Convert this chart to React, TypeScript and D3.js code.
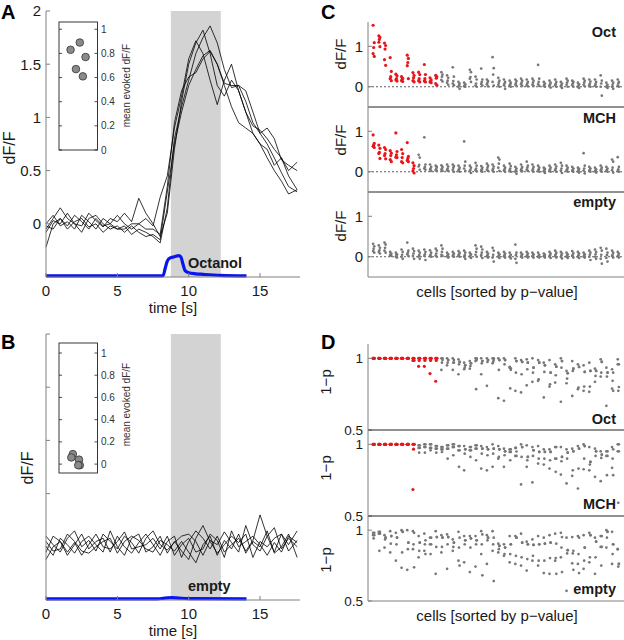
import React from 'react';
import * as d3 from 'd3';

// ---------- DATA ----------
const TIMES = [0,0.5,1,1.5,2,2.5,3,3.5,4,4.5,5,5.5,6,6.5,7,7.5,8,8.5,9,9.5,10,10.5,11,11.5,12,12.5,13,13.5,14,14.5,15,15.5,16,16.5,17,17.6];

const TRACES_A = [
  [-0.22,0.0,0.05,-0.02,0.08,0.02,-0.05,0.05,-0.02,0.0,-0.05,-0.02,-0.1,-0.05,-0.08,-0.12,-0.18,0.15,0.8,1.1,1.35,1.6,1.75,1.86,1.7,1.45,1.28,1.3,1.15,0.95,0.85,0.75,0.62,0.48,0.35,0.3],
  [-0.05,0.05,0.15,0.05,0.0,-0.02,0.1,0.03,-0.03,0.05,0.02,0.1,0.02,0.24,0.1,0.0,-0.12,0.1,0.7,1.15,1.5,1.7,1.82,1.6,1.3,1.2,1.35,1.25,1.05,0.92,0.88,0.8,0.7,0.62,0.5,0.58],
  [0.0,0.08,-0.02,0.02,-0.05,0.08,0.02,-0.05,0.05,0.0,0.08,0.0,-0.05,0.0,0.05,-0.02,0.25,0.45,0.9,1.2,1.55,1.72,1.6,1.35,1.12,1.35,1.5,1.25,1.05,0.85,0.75,0.7,0.55,0.62,0.45,0.32],
  [-0.08,0.03,0.0,0.1,0.0,-0.08,0.05,0.08,0.0,-0.05,-0.02,-0.08,-0.02,-0.08,-0.12,-0.1,-0.15,0.3,0.75,1.05,1.3,1.45,1.58,1.63,1.5,1.32,1.3,1.3,1.25,1.05,0.85,0.9,0.8,0.6,0.55,0.5],
  [-0.02,-0.05,0.05,-0.05,0.02,0.05,-0.03,0.0,-0.08,-0.02,-0.05,-0.05,0.0,0.0,-0.05,-0.05,-0.1,0.35,0.95,1.25,1.38,1.42,1.55,1.62,1.5,1.3,1.1,0.95,0.9,0.85,0.75,0.62,0.5,0.4,0.28,0.32],
];

const TRACES_B = [
  [-0.05,0.1,0.05,-0.08,0.02,0.12,-0.02,0.05,0.08,-0.05,0.1,0.0,-0.06,0.04,0.12,0.02,-0.08,0.05,0.1,-0.1,0.05,0.15,0.08,-0.02,0.1,-0.05,0.02,0.08,-0.04,0.06,0.3,0.1,-0.05,0.12,0.02,0.15],
  [0.1,0.02,-0.05,0.08,0.15,0.0,0.06,-0.04,0.12,0.05,-0.02,0.1,0.04,-0.06,0.08,0.15,0.02,-0.03,0.04,0.1,0.12,0.05,-0.08,0.06,0.02,0.14,0.04,-0.05,0.2,0.02,-0.04,0.1,0.18,-0.02,0.08,0.0],
  [0.0,-0.08,0.08,0.02,-0.06,0.05,0.1,0.02,-0.05,0.15,0.0,-0.08,0.08,0.12,-0.05,0.0,0.1,-0.06,0.05,-0.04,-0.12,0.08,0.2,0.05,-0.06,0.02,0.1,0.04,0.12,-0.1,0.05,0.0,0.08,0.12,-0.04,0.06],
  [-0.12,0.0,0.05,-0.05,0.04,-0.08,0.02,0.12,0.0,-0.02,0.05,0.14,-0.02,0.0,0.02,0.08,-0.02,0.1,-0.08,0.02,0.08,-0.05,-0.02,0.12,0.06,-0.1,0.15,0.0,0.05,0.1,0.02,-0.08,0.04,-0.05,0.1,0.04],
  [0.05,-0.04,-0.02,0.12,0.05,-0.04,-0.06,0.0,0.05,0.08,-0.06,0.05,0.1,0.06,-0.02,-0.05,0.06,0.02,-0.04,0.05,-0.05,-0.15,0.02,0.1,-0.08,0.06,-0.02,0.12,-0.06,0.05,0.0,0.15,-0.06,0.0,0.12,-0.1],
];

const STIM_T_A = [0, 8.2, 8.35, 8.5, 8.7, 9.0, 9.3, 9.45, 9.6, 9.75, 10.0, 10.5, 11.0, 12.2, 14.05];
const STIM_V_A = [-0.49, -0.49, -0.42, -0.35, -0.32, -0.31, -0.3, -0.31, -0.38, -0.44, -0.46, -0.47, -0.475, -0.485, -0.49];
const STIM_T_B = [0, 7.8, 8.3, 8.8, 9.3, 10, 14.05];
const STIM_V_B = [-0.49, -0.49, -0.482, -0.478, -0.482, -0.487, -0.49];

const ODOR_WINDOW = [8.75, 12.25];
const TIME_TICKS = [0, 5, 10, 15];
const DFF_TICKS = [0, 0.5, 1, 1.5, 2];
const DFF_TICK_LABELS = ['0', '0.5', '1', '1.5', '2'];
const INSET_TICKS = [0, 0.2, 0.4, 0.6, 0.8, 1];

const INSET_A = [0.83, 0.89, 0.77, 0.67, 0.61];
const INSET_A_JITTER = [0.3, 0.54, 0.69, 0.44, 0.62];
const INSET_B = [0.09, 0.06, 0.04, -0.01, -0.01];
const INSET_B_JITTER = [0.36, 0.32, 0.52, 0.54, 0.5];

const ODORS = ['Oct', 'MCH', 'empty'];
const SIG_CELLS = [12, 8, 0];

const RESP_OCT = [
  [1.52,1.09,0.97,0.82,0.75],[1.26,1.22,1.17,1.1,0.99],[1.08,1.02,0.93,0.67,0.53],[0.72,0.38,0.25,0.2,0.15],
  [0.31,0.27,0.2,0.17,0.14],[0.25,0.21,0.18,0.15,0.13],[0.78,0.7,0.6,0.52,0.2],[0.35,0.28,0.22,0.15,0.12],
  [0.36,0.3,0.2,0.15,0.12],[0.55,0.3,0.2,0.14,0.12],[0.22,0.17,0.14,0.12,0.1],[0.28,0.25,0.21,0.08,0.04],
  [0.36,0.3,0.25,0.17,0.13],[0.28,0.22,0.15,0.1,0.05],[0.48,0.25,0.14,0.08,0.04],[0.12,0.08,0.04,0.0,-0.05],
  [0.1,0.06,0.03,0.01,0.0],[0.42,0.36,0.24,0.2,0.12],[0.25,0.18,0.08,0.03,0.0],[0.45,0.18,0.12,0.07,0.03],
  [0.18,0.14,0.1,0.06,0.01],[0.73,0.46,0.3,0.12,0.03],[0.22,0.15,0.1,0.05,0.0],[0.18,0.12,0.08,0.04,-0.05],
  [0.15,0.1,0.06,0.03,0.0],[0.18,0.14,0.09,0.05,0.02],[0.2,0.15,0.1,0.06,0.02],[0.18,0.12,0.08,0.04,0.01],
  [0.2,0.15,0.1,0.05,0.02],[0.54,0.2,0.12,0.06,0.02],[0.12,0.08,0.05,0.02,0.0],[0.15,0.1,0.06,0.03,-0.02],
  [0.18,0.12,0.07,0.04,0.0],[0.12,0.08,0.04,0.01,-0.03],[0.2,0.15,0.1,0.05,0.0],[0.15,0.12,0.08,0.04,0.0],
  [0.1,0.06,0.03,0.0,-0.03],[0.2,0.15,0.1,0.05,0.01],[0.18,0.13,0.08,0.04,0.0],[0.18,0.12,0.07,0.03,0.0],
  [0.28,0.15,0.08,0.0,-0.22],[0.1,0.05,0.02,0.0,-0.03],[0.15,0.1,0.05,0.0,-0.05],[0.18,0.12,0.08,0.03,0.0],
];
const RESP_MCH = [
  [0.91,0.7,0.66,0.63,0.6],[0.66,0.58,0.48,0.45,0.33],[0.6,0.55,0.45,0.4,0.32],[0.52,0.46,0.4,0.3,0.25],
  [0.96,0.5,0.42,0.36,0.35],[0.55,0.45,0.35,0.25,0.22],[0.72,0.38,0.33,0.28,0.25],[0.22,0.15,0.08,0.02,-0.03],
  [0.42,0.35,0.17,0.13,0.05],[0.85,0.18,0.12,0.08,0.05],[0.18,0.12,0.08,0.05,0.02],[0.15,0.12,0.08,0.04,0.02],
  [0.16,0.12,0.08,0.05,0.02],[0.18,0.13,0.08,0.04,0.02],[0.18,0.14,0.1,0.05,0.0],[0.15,0.1,0.06,0.03,0.0],
  [0.75,0.25,0.15,0.08,0.02],[0.15,0.1,0.05,0.02,-0.03],[0.22,0.15,0.08,0.04,0.01],[0.14,0.1,0.06,0.03,0.0],
  [0.2,0.15,0.1,0.05,0.02],[0.18,0.13,0.08,0.04,0.0],[0.35,0.3,0.2,0.1,0.02],[0.15,0.1,0.06,0.03,0.0],
  [0.2,0.14,0.08,0.04,0.0],[0.12,0.08,0.04,0.0,-0.05],[0.18,0.12,0.08,0.04,0.01],[0.25,0.15,0.1,0.05,0.02],
  [0.18,0.12,0.07,0.03,0.0],[0.15,0.1,0.06,0.03,0.0],[0.1,0.07,0.04,0.01,-0.03],[0.15,0.1,0.06,0.03,0.0],
  [0.18,0.13,0.08,0.04,0.0],[0.22,0.15,0.08,0.03,-0.03],[0.15,0.1,0.06,0.03,0.0],[0.12,0.08,0.05,0.02,0.0],
  [0.1,0.07,0.04,0.01,-0.02],[0.46,0.15,0.08,0.03,-0.04],[0.12,0.08,0.05,0.02,0.0],[0.1,0.06,0.03,0.01,-0.02],
  [0.15,0.1,0.06,0.03,0.0],[0.12,0.08,0.05,0.02,0.0],[0.3,0.25,0.1,0.04,-0.02],[0.36,0.12,0.06,0.02,0.0],
];
const RESP_EMPTY = [
  [0.32,0.26,0.2,0.14,0.1],[0.28,0.22,0.16,0.12,0.08],[0.35,0.3,0.22,0.15,0.1],[0.12,0.08,0.06,0.04,0.02],
  [0.1,0.06,0.04,0.0,-0.02],[0.18,0.12,0.05,0.0,-0.05],[0.35,0.15,0.1,0.06,0.02],[0.2,0.14,0.08,0.02,-0.05],
  [0.15,0.1,0.04,0.0,-0.05],[0.18,0.12,0.06,0.02,-0.08],[0.16,0.1,0.05,0.02,0.0],[0.2,0.15,0.08,0.03,0.0],
  [0.28,0.2,0.12,0.05,0.02],[0.1,0.06,0.03,0.01,-0.02],[0.12,0.08,0.05,0.02,0.0],[0.14,0.1,0.06,0.03,0.0],
  [0.15,0.1,0.04,0.0,-0.05],[0.1,0.06,0.03,0.01,-0.03],[0.28,0.2,0.12,0.05,0.0],[0.25,0.18,0.1,0.04,-0.03],
  [0.12,0.08,0.04,0.01,-0.02],[0.22,0.15,0.05,-0.02,-0.12],[0.1,0.06,0.03,0.0,-0.03],[0.12,0.08,0.04,0.01,-0.02],
  [0.1,0.05,0.02,0.0,-0.04],[0.3,0.1,0.04,-0.05,-0.15],[0.1,0.06,0.03,0.0,-0.02],[0.12,0.08,0.04,0.01,-0.02],
  [0.1,0.06,0.03,0.01,-0.02],[0.1,0.05,0.02,0.0,-0.02],[0.08,0.05,0.03,0.01,-0.02],[0.12,0.08,0.04,0.01,-0.03],
  [0.15,0.1,0.06,0.02,-0.02],[0.12,0.08,0.04,0.0,-0.04],[0.1,0.06,0.03,0.0,-0.03],[0.14,0.09,0.05,0.02,-0.02],
  [0.12,0.08,0.04,0.0,-0.03],[0.1,0.06,0.03,0.0,-0.02],[0.15,0.1,0.05,0.0,-0.08],[0.18,0.12,0.06,0.0,-0.05],
  [0.22,0.15,0.05,-0.05,-0.17],[0.2,0.1,0.04,-0.03,-0.12],[0.15,0.1,0.05,0.02,-0.02],[0.12,0.08,0.04,0.01,-0.02],
];

const P_OCT = [
  [1,1,1,1,1],[1,1,1,1,1],[1,1,1,1,1],[1,1,1,1,1],[1,1,1,1,1],[1,1,1,1,1],[1,1,1,1,1],
  [1,1,1,0.985,0.985],[1,1,0.985,0.944,1],[1,1,0.985,0.944,1],[1,1,0.985,0.894,1],[1,1,0.985,0.84,1],
  [1,0.988,0.97,0.919,1],[1,0.988,0.97,0.951,0.988],[1,0.988,0.97,0.919,0.97],[0.993,0.975,0.958,0.889,0.975],
  [0.97,0.951,0.935,0.924,0.951],[0.981,0.965,0.947,0.928,0.965],[1,0.988,0.785,0.981,1],[1,0.981,0.965,0.889,0.981],
  [1,0.988,0.975,0.808,0.988],[1,0.988,0.975,0.965,1],[1,0.988,0.919,0.722,0.988],[1,0.988,0.958,0.704,0.988],
  [0.935,0.92,0.79,0.94,0.93],[1,0.981,0.9,0.773,0.981],[0.988,0.975,0.889,0.762,0.975],[0.993,0.97,0.924,0.812,0.97],
  [1,0.935,0.9,0.836,0.935],[0.988,0.97,0.854,0.843,0.97],[0.97,0.951,0.905,0.727,0.951],[0.988,0.9,0.819,0.803,0.9],
  [0.958,0.942,0.882,0.831,0.942],[1,0.981,0.935,0.697,0.981],[0.912,0.896,0.859,0.826,0.896],[0.981,0.928,0.912,0.738,0.928],
  [0.958,0.94,0.796,0.785,0.94],[0.951,0.905,0.803,0.773,0.905],[0.97,0.912,0.803,0.766,0.912],[0.928,0.912,0.877,0.836,0.912],
  [0.993,0.975,0.9,0.873,0.975],[0.935,0.9,0.873,0.669,0.9],[0.924,0.9,0.843,0.789,0.773],[0.993,0.958,0.773,0.958,0.8],
];
const P_MCH = [
  [1,1,1,1,1],[1,1,1,1,1],[1,1,1,1,1],[1,1,1,1,1],[1,1,1,1,1],[1,1,1,1,1],[1,1,1,1,1],
  [1,1,0.966,0.685,1],[0.993,0.975,0.942,0.975,0.993],[1,0.981,0.942,0.981,1],[1,0.975,0.958,0.975,1],
  [0.988,0.97,0.942,0.97,0.988],[0.981,0.965,0.947,0.965,0.981],[0.993,0.97,0.9,0.97,0.993],[1,0.981,0.924,0.981,1],
  [0.988,0.958,0.843,0.958,0.988],[0.988,0.965,0.935,0.819,0.965],[0.981,0.958,0.912,0.958,0.981],[0.993,0.97,0.889,0.97,0.993],
  [0.988,0.97,0.935,0.831,0.97],[0.981,0.965,0.924,0.819,0.965],[1,0.97,0.935,0.843,0.97],[0.988,0.965,0.912,0.9,0.965],
  [0.97,0.951,0.924,0.843,0.951],[0.965,0.947,0.889,0.947,0.965],[0.975,0.919,0.975,0.919,0.95],[1,0.981,0.912,0.72,0.981],
  [0.993,0.912,0.889,0.843,0.912],[0.981,0.958,0.919,0.734,0.958],[0.988,0.947,0.9,0.866,0.947],[0.965,0.947,0.9,0.859,0.947],
  [0.965,0.947,0.889,0.831,0.947],[0.981,0.9,0.808,0.9,0.981],[0.981,0.912,0.882,0.789,0.912],[0.965,0.942,0.9,0.727,0.942],
  [0.97,0.951,0.819,0.78,0.951],[0.988,0.97,0.831,0.692,0.97],[1,0.988,0.9,0.826,0.988],[0.981,0.877,0.859,0.819,0.877],
  [0.97,0.951,0.919,0.773,0.951],[0.951,0.928,0.905,0.743,0.928],[0.951,0.919,0.785,0.919,0.951],[0.981,0.965,0.9,0.836,0.785],
  [1,0.951,0.592,0.951,1],
];
const P_EMPTY = [
  [0.981,0.965,0.942,0.965,0.981],[0.988,0.975,0.854,0.975,0.988],[0.965,0.947,0.935,0.877,0.947],[0.993,0.958,0.905,0.843,0.958],
  [0.981,0.947,0.9,0.785,0.947],[1,0.988,0.843,0.734,0.988],[1,0.912,0.866,0.72,0.912],[0.993,0.981,0.9,0.866,0.738],
  [0.958,0.912,0.854,0.808,0.912],[0.975,0.928,0.9,0.854,0.831],[0.947,0.9,0.831,0.9,0.947],[0.993,0.951,0.882,0.692,0.951],
  [0.965,0.947,0.882,0.843,0.947],[0.97,0.951,0.9,0.727,0.951],[0.935,0.912,0.882,0.854,0.912],[0.988,0.947,0.877,0.785,0.75],
  [0.958,0.928,0.9,0.773,0.928],[0.958,0.942,0.877,0.704,0.942],[0.958,0.928,0.9,0.743,0.928],[0.993,0.97,0.9,0.831,0.681],
  [0.965,0.947,0.928,0.762,0.947],[0.993,0.947,0.9,0.854,0.641],[0.905,0.889,0.866,0.843,0.889],[0.9,0.877,0.831,0.819,0.877],
  [0.958,0.9,0.831,0.773,0.9],[0.958,0.947,0.819,0.762,0.947],[0.975,0.912,0.808,0.75,0.912],[0.919,0.9,0.796,0.715,0.9],
  [0.935,0.896,0.819,0.785,0.896],[0.958,0.9,0.785,0.75,0.9],[0.947,0.905,0.785,0.697,0.905],[0.965,0.912,0.803,0.692,0.912],
  [0.975,0.905,0.803,0.785,0.692],[0.981,0.951,0.877,0.808,0.704],[0.947,0.859,0.836,0.572,0.859],[0.951,0.854,0.836,0.766,0.72],
  [0.958,0.947,0.831,0.762,0.697],[0.965,0.877,0.785,0.727,0.877],[0.981,0.965,0.808,0.773,0.965],[0.947,0.919,0.808,0.692,0.919],
  [0.958,0.882,0.75,0.882,0.958],[1,0.988,0.947,0.877,0.988],[0.988,0.9,0.831,0.762,0.9],[0.866,0.762,0.743,0.866,0.762],
];

const RESP_ALL = [RESP_OCT, RESP_MCH, RESP_EMPTY];
const P_ALL = [P_OCT, P_MCH, P_EMPTY];
const C_TICKS = [0, 1];
const D_TICKS = [0.5, 1];
const D_TICK_LABELS = ['0.5', '1'];

// ---------- STYLE ----------
const FONT = "'Liberation Sans', Arial, Helvetica, sans-serif";
const AXIS = '#808080';
const TXT = '#1a1a1a';
const RED = '#e8161b';
const GRAY_DOT = '#777777';
const TRIAL_OFFSET = [-0.1, 0.1, 0, -0.1, 0.1];

const xT = d3.scaleLinear().domain([0, 17.8]).range([46, 300]);

function TracePanel({ top, bottom, traces, stimT, stimV, showLabels, stimLabel, stimLabelY, insetTop, insetBottom, insetDomain, insetVals, insetJit, dffX, dffY }: any) {
  const y = d3.scaleLinear().domain([-0.5, 2]).range([bottom, top]);
  const line = d3.line<number>().x((_, i) => xT(TIMES[i])).y(d => y(d));
  const stimLine = d3.line<number>().x((_, i) => xT(stimT[i])).y(d => y(d)).curve(d3.curveMonotoneX);
  const ix = d3.scaleLinear().domain([0, 1]).range([59, 97.5]);
  const iy = d3.scaleLinear().domain(insetDomain).range([insetBottom, insetTop]);
  const xl = xT.range();
  return (
    <g>
      <rect x={xT(ODOR_WINDOW[0])} y={top} width={xT(ODOR_WINDOW[1]) - xT(ODOR_WINDOW[0])} height={bottom - top} fill="#d3d3d3" />
      {traces.map((tr: number[], i: number) => (
        <path key={i} d={line(tr) || ''} fill="none" stroke="#000" strokeWidth={0.8} />
      ))}
      <path d={stimLine(stimV) || ''} fill="none" stroke="#0a14f0" strokeWidth={3.2} />
      <line x1={xl[0]} x2={xl[0]} y1={top} y2={bottom} stroke={AXIS} strokeWidth={1} />
      <line x1={xl[0]} x2={xl[1]} y1={bottom} y2={bottom} stroke={AXIS} strokeWidth={1} />
      {DFF_TICKS.map((t, i) => (
        <g key={i}>
          <line x1={xl[0]} x2={xl[0] + 4} y1={y(t)} y2={y(t)} stroke={AXIS} />
          {showLabels && (
            <text x={xl[0] - 5} y={y(t)} dy="0.36em" textAnchor="end" fontSize={15} fill={TXT}>{DFF_TICK_LABELS[i]}</text>
          )}
        </g>
      ))}
      {TIME_TICKS.map((t, i) => (
        <g key={i}>
          <line x1={xT(t)} x2={xT(t)} y1={bottom} y2={bottom - 4} stroke={AXIS} />
          <text x={xT(t)} y={bottom + 19} textAnchor="middle" fontSize={15} fill={TXT}>{t}</text>
        </g>
      ))}
      <text x={(xl[0] + xl[1]) / 2} y={bottom + 36} textAnchor="middle" fontSize={15} fill={TXT}>time [s]</text>
      <text transform={`translate(${dffX},${dffY}) rotate(-90)`} textAnchor="middle" fontSize={16} fill={TXT}>dF/F</text>
      <text x={xT(9.95)} y={stimLabelY} fontSize={14.5} fontWeight="bold" fill={TXT}>{stimLabel}</text>
      <rect x={59} y={insetTop} width={38.5} height={insetBottom - insetTop} fill="#fff" stroke="#222" strokeWidth={0.9} />
      {INSET_TICKS.map((t, i) => (
        <g key={i}>
          <line x1={59} x2={62} y1={iy(t)} y2={iy(t)} stroke="#222" strokeWidth={0.8} />
          <line x1={97.5} x2={94.5} y1={iy(t)} y2={iy(t)} stroke="#222" strokeWidth={0.8} />
          <text x={101} y={iy(t)} dy="0.35em" fontSize={10} fill="#333">{t}</text>
        </g>
      ))}
      <text transform={`translate(130,${(iy(0) + iy(1)) / 2 - 4}) rotate(-90)`} textAnchor="middle" fontSize={10} fill="#333">mean evoked dF/F</text>
      {insetVals.map((v: number, i: number) => (
        <circle key={i} cx={ix(insetJit[i])} cy={iy(v)} r={3.8} fill="#8a8a8a" stroke="#333" strokeWidth={0.8} />
      ))}
    </g>
  );
}

function ScatterPanel({ kind }: { kind: 'C' | 'D' }) {
  const xC = d3.scaleLinear().domain([0, 45]).range([368, 624]);
  const tops = kind === 'C' ? [22, 107, 192] : [344, 430, 516];
  const bottoms = kind === 'C' ? [107, 192, 277] : [430, 516, 601];
  const domain = kind === 'C' ? [-0.5, 1.6] : [0.5, 1.1];
  const data = kind === 'C' ? RESP_ALL : P_ALL;
  const ticks = kind === 'C' ? C_TICKS : D_TICKS;
  const tickLabels = kind === 'C' ? ['0', '1'] : D_TICK_LABELS;
  const tickFont = kind === 'C' ? 15 : 13.5;
  const labelY = kind === 'C' ? [37, 123, 207] : [424, 509, 594];
  const ylabY = kind === 'C' ? [54, 140, 226] : [382, 468, 560];
  const axisX = xC.range();
  return (
    <g>
      {ODORS.map((odor, k) => {
        const y = d3.scaleLinear().domain(domain).range([bottoms[k], tops[k]]);
        return (
          <g key={odor}>
            {kind === 'C' && (
              <line x1={axisX[0]} x2={axisX[1]} y1={y(0)} y2={y(0)} stroke="#333" strokeWidth={0.8} strokeDasharray="2,2" />
            )}
            {data[k].map((cell: number[], ci: number) =>
              cell.map((v, ti) => {
                const sig = ci < SIG_CELLS[k];
                return (
                  <circle key={`${ci}-${ti}`} cx={xC(ci + 1 + TRIAL_OFFSET[ti])} cy={y(v)} r={sig ? 1.6 : 1.35} fill={sig ? RED : GRAY_DOT} />
                );
              })
            )}
            {ticks.map((t, i) => (
              <g key={i}>
                <line x1={axisX[0]} x2={axisX[0] + 4} y1={y(t)} y2={y(t)} stroke={AXIS} />
                <text x={axisX[0] - 5} y={y(t)} dy="0.36em" textAnchor="end" fontSize={tickFont} fill={TXT}>{tickLabels[i]}</text>
              </g>
            ))}
            <text x={616} y={labelY[k]} textAnchor="end" fontSize={14.5} fontWeight="bold" fill={TXT}>{odor}</text>
            <text transform={`translate(${kind === 'C' ? 346 : 331},${ylabY[k]}) rotate(-90)`} textAnchor="middle" fontSize={15} fill={TXT}>{kind === 'C' ? 'dF/F' : '1−p'}</text>
            {k < 2 && (
              <line x1={axisX[0]} x2={axisX[1]} y1={bottoms[k]} y2={bottoms[k]} stroke="#222" strokeWidth={1} />
            )}
          </g>
        );
      })}
      <line x1={axisX[0]} x2={axisX[0]} y1={tops[0]} y2={bottoms[2]} stroke={AXIS} strokeWidth={1} />
      <line x1={axisX[0]} x2={axisX[1]} y1={bottoms[2]} y2={bottoms[2]} stroke={AXIS} strokeWidth={1} />
      <text x={(axisX[0] + axisX[1]) / 2 + 1} y={bottoms[2] + 20} textAnchor="middle" fontSize={15} fill={TXT}>cells [sorted by p−value]</text>
    </g>
  );
}

export default function App() {
  return (
    <svg width={624} height={640} style={{ position: 'absolute', left: 0, top: 0, display: 'block', background: '#fff' }} fontFamily={FONT}>
      <rect width={624} height={640} fill="#fff" />
      <TracePanel top={11} bottom={277} traces={TRACES_A} stimT={STIM_T_A} stimV={STIM_V_A} showLabels={true}
        stimLabel="Octanol" stimLabelY={268} insetTop={22} insetBottom={150} insetDomain={[0, 1.06]}
        insetVals={INSET_A} insetJit={INSET_A_JITTER} dffX={15} dffY={148} />
      <TracePanel top={334} bottom={600} traces={TRACES_B} stimT={STIM_T_B} stimV={STIM_V_B} showLabels={false}
        stimLabel="empty" stimLabelY={591} insetTop={343} insetBottom={473} insetDomain={[-0.08, 1.09]}
        insetVals={INSET_B} insetJit={INSET_B_JITTER} dffX={33} dffY={468} />
      <ScatterPanel kind="C" />
      <ScatterPanel kind="D" />
      <text x={1} y={19} fontSize={20} fontWeight="bold" fill="#000">A</text>
      <text x={1} y={349} fontSize={20} fontWeight="bold" fill="#000">B</text>
      <text x={321} y={19} fontSize={20} fontWeight="bold" fill="#000">C</text>
      <text x={321} y={349} fontSize={20} fontWeight="bold" fill="#000">D</text>
    </svg>
  );
}
